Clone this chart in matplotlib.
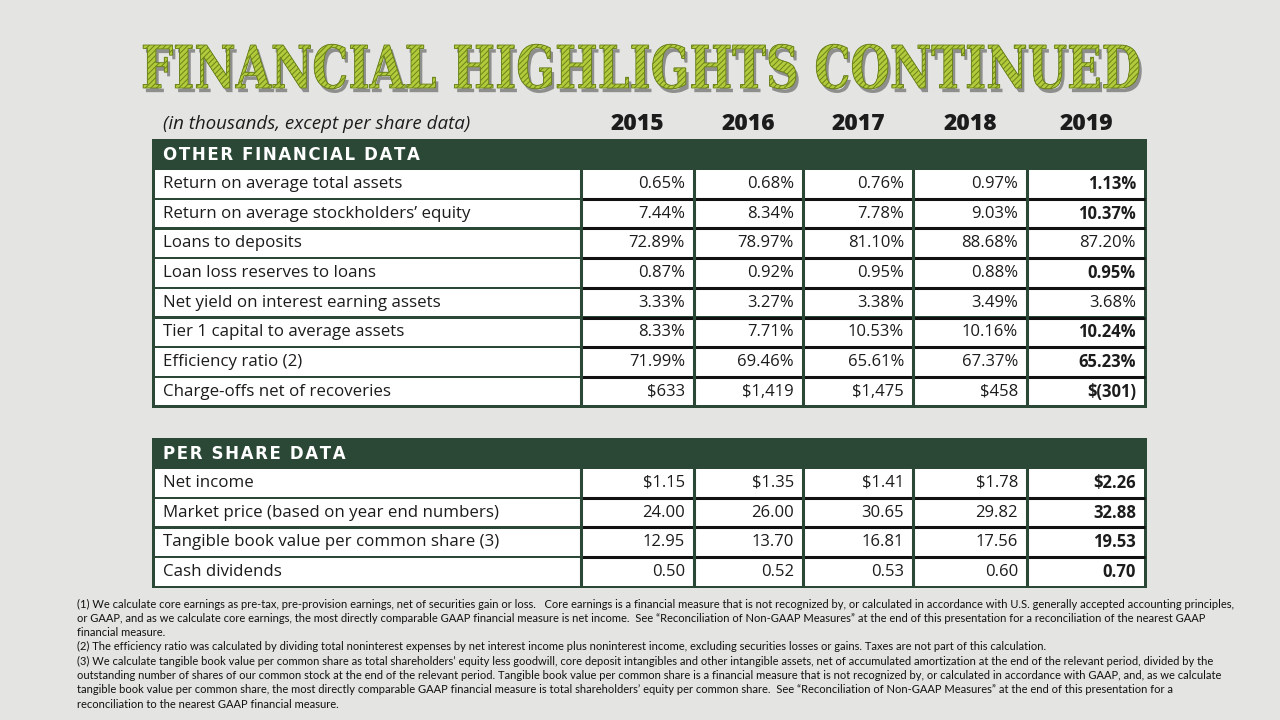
import matplotlib.pyplot as plt
from matplotlib.patches import Rectangle
from matplotlib.transforms import Affine2D
import matplotlib.patheffects as pe

years = ['2015', '2016', '2017', '2018', '2019']

other_labels = ['Return on average total assets',
                'Return on average stockholders\u2019 equity',
                'Loans to deposits',
                'Loan loss reserves to loans',
                'Net yield on interest earning assets',
                'Tier 1 capital to average assets',
                'Efficiency ratio (2)',
                'Charge-offs net of recoveries']
return_on_assets = [0.65, 0.68, 0.76, 0.97, 1.13]
return_on_equity = [7.44, 8.34, 7.78, 9.03, 10.37]
loans_to_deposits = [72.89, 78.97, 81.10, 88.68, 87.20]
loan_loss_reserves = [0.87, 0.92, 0.95, 0.88, 0.95]
net_yield = [3.33, 3.27, 3.38, 3.49, 3.68]
tier1_capital = [8.33, 7.71, 10.53, 10.16, 10.24]
efficiency_ratio = [71.99, 69.46, 65.61, 67.37, 65.23]
charge_offs = [633, 1419, 1475, 458, -301]
# 2019 column is bold except these two rows
other_bold_2019 = [True, True, False, True, False, True, True, True]

per_share_labels = ['Net income',
                    'Market price (based on year end numbers)',
                    'Tangible book value per common share (3)',
                    'Cash dividends']
net_income_ps = [1.15, 1.35, 1.41, 1.78, 2.26]
market_price = [24.00, 26.00, 30.65, 29.82, 32.88]
tangible_book = [12.95, 13.70, 16.81, 17.56, 19.53]
cash_dividends = [0.50, 0.52, 0.53, 0.60, 0.70]

footnotes = [
    '(1) We calculate core earnings as pre-tax, pre-provision earnings, net of securities gain or loss.   Core earnings is a financial measure that is not recognized by, or calculated in accordance with U.S. generally accepted accounting principles,',
    'or GAAP, and as we calculate core earnings, the most directly comparable GAAP financial measure is net income.  See \u201cReconciliation of Non-GAAP Measures\u201d at the end of this presentation for a reconciliation of the nearest GAAP',
    'financial measure.',
    '(2) The efficiency ratio was calculated by dividing total noninterest expenses by net interest income plus noninterest income, excluding securities losses or gains. Taxes are not part of this calculation.',
    '(3) We calculate tangible book value per common share as total shareholders\u2019 equity less goodwill, core deposit intangibles and other intangible assets, net of accumulated amortization at the end of the relevant period, divided by the',
    'outstanding number of shares of our common stock at the end of the relevant period. Tangible book value per common share is a financial measure that is not recognized by, or calculated in accordance with GAAP, and, as we calculate',
    'tangible book value per common share, the most directly comparable GAAP financial measure is total shareholders\u2019 equity per common share.  See \u201cReconciliation of Non-GAAP Measures\u201d at the end of this presentation for a',
    'reconciliation to the nearest GAAP financial measure.',
]


def pct(v):
    return f'{v:.2f}%'


def dollars(v):
    if v < 0:
        return f'$({abs(v):,})'
    return f'${v:,}'


def money(v):
    return f'${v:.2f}'


def plain(v):
    return f'{v:.2f}'


other_rows = [[pct(v) for v in return_on_assets],
              [pct(v) for v in return_on_equity],
              [pct(v) for v in loans_to_deposits],
              [pct(v) for v in loan_loss_reserves],
              [pct(v) for v in net_yield],
              [pct(v) for v in tier1_capital],
              [pct(v) for v in efficiency_ratio],
              [dollars(v) for v in charge_offs]]
per_share_rows = [[money(v) for v in net_income_ps],
                  [plain(v) for v in market_price],
                  [plain(v) for v in tangible_book],
                  [plain(v) for v in cash_dividends]]

BG = '#e4e4e2'
GREEN = '#2b4836'
TXT = '#1c1c1c'
BODY_FONT = 'Open Sans'

# column edges in pixels
col_edges = [153, 581, 694, 803, 913, 1027, 1145]
row_h = 29.7
band_h = 30

fig = plt.figure(figsize=(12.8, 7.2), dpi=100)
fig.patch.set_facecolor(BG)
ax = fig.add_axes([0, 0, 1, 1])
ax.set_xlim(0, 1280)
ax.set_ylim(720, 0)
ax.axis('off')
renderer = fig.canvas.get_renderer()


def fit_text(t, width):
    # scale font size so the text spans the given pixel width
    w = t.get_window_extent(renderer).width
    t.set_fontsize(t.get_fontsize() * width / w)


class VStretch(pe.AbstractPathEffect):
    """Wrap another path effect and stretch the glyphs vertically about a baseline."""

    def __init__(self, inner, sy, y_base):
        super().__init__()
        self.inner = inner
        self.sy = sy
        self.y_base = y_base

    def draw_path(self, renderer, gc, tpath, affine, rgbFace=None):
        extra = Affine2D().translate(0, -self.y_base).scale(1, self.sy).translate(0, self.y_base)
        self.inner.draw_path(renderer, gc, tpath, affine + extra, rgbFace)


# title: hatched green letters with a dark drop shadow
plt.rcParams['hatch.linewidth'] = 0.7
title_base = 88
title = ax.text(141, title_base, 'FINANCIAL HIGHLIGHTS CONTINUED', fontsize=40,
                fontweight='bold', family='DejaVu Serif', va='baseline', ha='left')
fit_text(title, 1000)
cap_px = title.get_fontsize() * 100 / 72 * 0.729
sy = 43 / cap_px
y_disp = ax.transData.transform((0, title_base))[1]
title.set_path_effects([
    VStretch(pe.withSimplePatchShadow(offset=(2, -3), shadow_rgbFace='#3a3a3a', alpha=0.5), sy, y_disp),
    VStretch(pe.PathPatchEffect(facecolor='#b2ca3c', edgecolor='#6a8419', hatch='//////', lw=0.6),
             sy, y_disp),
])

# column headings
ax.text(163, 124, '(in thousands, except per share data)', fontsize=13.5, style='italic',
        family=BODY_FONT, color=TXT, va='center', ha='left')
for i, yr in enumerate(years):
    xc = (col_edges[i + 1] + col_edges[i + 2]) / 2
    ax.text(xc, 124, yr, fontsize=16.5, fontweight='heavy', family=BODY_FONT,
            color=TXT, va='center', ha='center')


def draw_section(top, heading, labels, rows, bold_last):
    n = len(rows)
    bottom = top + band_h + n * row_h
    ax.add_patch(Rectangle((col_edges[0] - 1.5, top), col_edges[-1] - col_edges[0] + 3,
                           bottom - top + 1.5, facecolor=GREEN, edgecolor='none'))
    spaced = '\u200a'.join(heading)
    ax.text(163, top + band_h / 2 + 1, spaced, fontsize=12, fontweight='bold',
            family='DejaVu Sans', color='white', va='center', ha='left')
    for r in range(n):
        y0 = top + band_h + r * row_h
        for c in range(len(col_edges) - 1):
            x0, x1 = col_edges[c], col_edges[c + 1]
            ax.add_patch(Rectangle((x0 + 1.5, y0 + 1.2), x1 - x0 - 3, row_h - 2.4,
                                   facecolor='white', edgecolor='none'))
        if r > 0:
            ax.plot([col_edges[1], col_edges[-1]], [y0, y0], color='#111111', lw=2.2,
                    solid_capstyle='butt')
        yc = y0 + row_h / 2
        ax.text(163, yc, labels[r], fontsize=12.2, family=BODY_FONT, color=TXT,
                va='center', ha='left')
        for c, val in enumerate(rows[r]):
            bold = c == len(rows[r]) - 1 and bold_last[r]
            ax.text(col_edges[c + 2] - 9, yc, val, fontsize=12, family=BODY_FONT,
                    fontweight='bold' if bold else 'normal', color=TXT,
                    va='center', ha='right')
    # vertical dividers on top
    for x in col_edges[1:-1]:
        ax.plot([x, x], [top + band_h, bottom], color=GREEN, lw=2.2, solid_capstyle='butt')


draw_section(139, 'OTHER FINANCIAL DATA', other_labels, other_rows, other_bold_2019)
draw_section(438, 'PER SHARE DATA', per_share_labels, per_share_rows, [True] * 4)

notes = []
for i, line in enumerate(footnotes):
    notes.append(ax.text(77, 604 + i * 14.3, line, fontsize=8, family='Lato',
                         color='#111111', va='center', ha='left'))
# size all footnotes so the first line spans the same width as in the slide
w0 = notes[0].get_window_extent(renderer).width
for t in notes:
    t.set_fontsize(8 * 1155 / w0)

fig.savefig('out.png', dpi=100, facecolor=BG)
